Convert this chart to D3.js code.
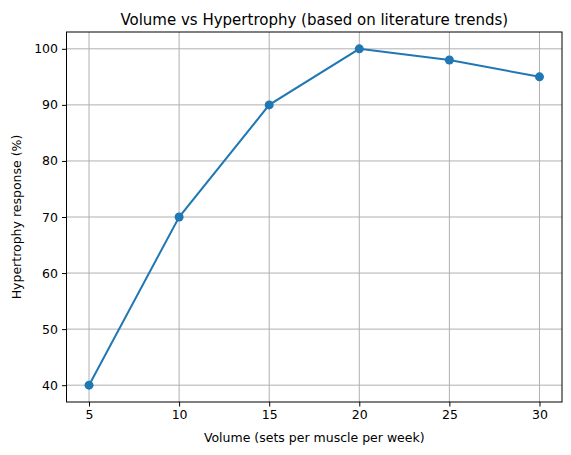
<!DOCTYPE html>
<html><head><meta charset="utf-8">
<script src="https://cdn.jsdelivr.net/npm/d3@7"></script>
<style>body{margin:0;background:#fff}text{font-family:"DejaVu Sans",sans-serif}</style>
</head><body><svg></svg>
<script>
const volume = [5, 10, 15, 20, 25, 30]
const response = [40, 70, 90, 100, 98, 95]
const xTicks = [5, 10, 15, 20, 25, 30]
const yTicks = [40, 50, 60, 70, 80, 90, 100]

const width = 571, height = 455
const m = {left: 66.5, right: 9, top: 32, bottom: 53}
const svg = d3.select('svg').attr('width', width).attr('height', height)

const x = d3.scaleLinear().domain([3.75, 31.25]).range([m.left, width - m.right])
const y = d3.scaleLinear().domain([37, 103]).range([height - m.bottom, m.top])

// grid
const grid = svg.append('g').attr('stroke', '#b0b0b0').attr('stroke-width', 1)
xTicks.forEach(t => grid.append('line').attr('x1', x(t)).attr('x2', x(t)).attr('y1', m.top).attr('y2', height - m.bottom))
yTicks.forEach(t => grid.append('line').attr('y1', y(t)).attr('y2', y(t)).attr('x1', m.left).attr('x2', width - m.right))

const xAxis = svg.append('g').attr('transform', `translate(0,${height - m.bottom})`)
    .call(d3.axisBottom(x).tickValues(xTicks).tickSize(4.5).tickPadding(4))
const yAxis = svg.append('g').attr('transform', `translate(${m.left},0)`)
    .call(d3.axisLeft(y).tickValues(yTicks).tickSize(4.5).tickPadding(4))
;[xAxis, yAxis].forEach(a => {
    a.select('.domain').remove()
    a.selectAll('text').attr('font-size', 12.5).attr('fill', '#000').style('font-family', 'DejaVu Sans')
    a.selectAll('line').attr('stroke', '#000').attr('stroke-width', 1)
})

svg.append('path').datum(volume.map((v, i) => [v, response[i]]))
    .attr('fill', 'none').attr('stroke', '#1f77b4').attr('stroke-width', 2)
    .attr('d', d3.line().x(d => x(d[0])).y(d => y(d[1])))
svg.selectAll('circle').data(volume).enter().append('circle')
    .attr('cx', d => x(d)).attr('cy', (d, i) => y(response[i])).attr('r', 4.5).attr('fill', '#1f77b4')

svg.append('rect').attr('x', m.left).attr('y', m.top)
    .attr('width', width - m.left - m.right).attr('height', height - m.top - m.bottom)
    .attr('fill', 'none').attr('stroke', '#000').attr('stroke-width', 1)

svg.append('text').attr('x', (m.left + width - m.right) / 2).attr('y', 25)
    .attr('text-anchor', 'middle').attr('font-size', 15).text('Volume vs Hypertrophy (based on literature trends)')
svg.append('text').attr('x', (m.left + width - m.right) / 2).attr('y', 442)
    .attr('text-anchor', 'middle').attr('font-size', 12.5).text('Volume (sets per muscle per week)')
svg.append('text').attr('transform', `translate(21,${(m.top + height - m.bottom) / 2}) rotate(-90)`)
    .attr('text-anchor', 'middle').attr('font-size', 12.5).text('Hypertrophy response (%)')
</script></body></html>
